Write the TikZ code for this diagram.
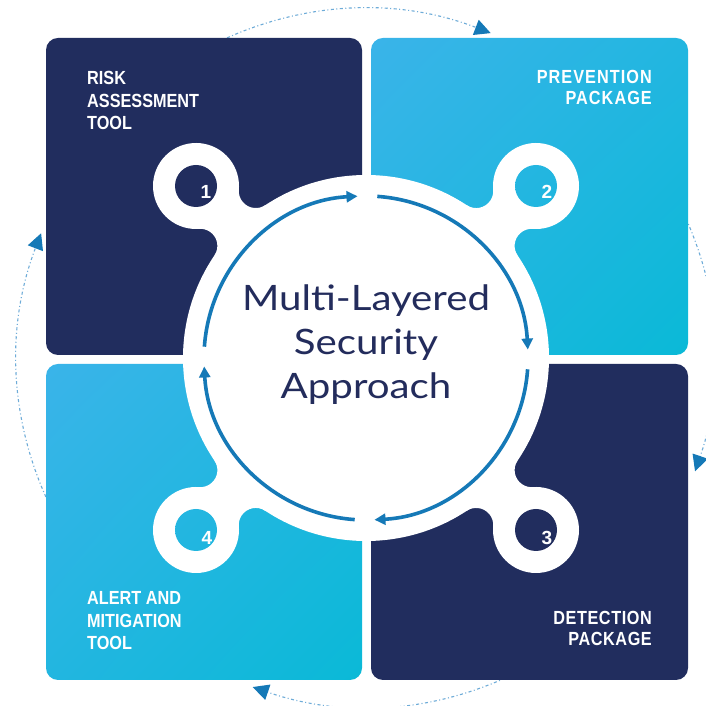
\documentclass[tikz,border=0pt]{standalone}
\usepackage{fontspec}
\setmainfont{Liberation Sans}
\newfontfamily\labelfont{Liberation Sans}[FakeStretch=0.855]
\newfontfamily\widelabelfont{Liberation Sans}[FakeStretch=0.855,LetterSpace=5.5]
\newfontfamily\midlabelfont{Liberation Sans}[FakeStretch=0.855,LetterSpace=3]
\newfontfamily\titlefont{Lato}[FakeStretch=1.15]
\usetikzlibrary{arrows.meta,shadings,calc}
\definecolor{navy}{RGB}{33,45,94}
\definecolor{skyA}{RGB}{58,180,233}
\definecolor{skyB}{RGB}{10,185,215}
\definecolor{skyM}{RGB}{34,182,224}
\definecolor{arrowblue}{RGB}{21,121,183}
\definecolor{dotblue}{RGB}{110,172,216}
\definecolor{titlenavy}{RGB}{35,44,92}
\tikzset{
  ringneck/.pic={
    \fill[white] (0,0) circle (43);
    \fill[white] (0,0) -- (32.70,27.92) arc[start angle=220.5,end angle=348.8,radius=17]
      -- (241.8,0) -- (62.3,-35.65) arc[start angle=11.2,end angle=139.5,radius=17] -- cycle;
  }
}
\begin{document}
\begin{tikzpicture}[x=1pt,y=1pt,
  tile/.style={rounded corners=12pt},
  skyfill/.style={upper left=skyA, lower right=skyB, upper right=skyM, lower left=skyM},
  outerarc/.style={draw=dotblue, line width=1.1pt, dash pattern=on 3pt off 2.5pt on 1pt off 2.5pt,
    -{Triangle[length=16pt,width=16pt,color=arrowblue]}},
  innerarc/.style={draw=arrowblue, line width=3.6pt, -{Triangle[length=11pt,width=11pt]}},
  lbl/.style={text=white, inner sep=0pt},
  num/.style={text=white, inner sep=0pt, font=\bfseries\fontsize{19}{19}\selectfont},
]
\useasboundingbox (0,0) rectangle (706,706);
\fill[white] (0,0) rectangle (706,706);
\coordinate (c) at (366,348);

% outer dotted cycle
\draw[outerarc] ($(c)+(149:348)$) arc[start angle=149, end angle=69, radius=348];
\draw[outerarc] ($(c)+(59:348)$) arc[start angle=59, end angle=-19, radius=348];
\draw[outerarc] ($(c)+(-31:348)$) arc[start angle=-31, end angle=-109, radius=348];
\draw[outerarc] ($(c)+(-121:348)$) arc[start angle=-121, end angle=-201, radius=348];

% tiles
\fill[tile, navy] (46,351) rectangle (362,668);
\shade[tile, skyfill] (371,351) rectangle (688,668);
\fill[tile, navy] (371,26) rectangle (688,342);
\shade[tile, skyfill] (46,26) rectangle (362,342);

% white hub with rings
\pic[rotate=-45.33] at (196,520) {ringneck};
\pic[rotate=225.33] at (536,520) {ringneck};
\pic[rotate=134.67] at (536,176) {ringneck};
\pic[rotate=45.33] at (196,176) {ringneck};
\fill[white] (c) circle (183);

% ring holes
\fill[navy] (196,520) circle (21);
\fill[navy] (536,176) circle (21);
\begin{scope}
  \clip (536,520) circle (21);
  \shade[tile, skyfill] (371,351) rectangle (688,668);
\end{scope}
\begin{scope}
  \clip (196,176) circle (21);
  \shade[tile, skyfill] (46,26) rectangle (362,342);
\end{scope}

\node[num] (n1) at (206,514) {1};
\node[num] (n2) at (547,514) {2};
\node[num] (n3) at (547,168) {3};
\node[num] (n4) at (207,168) {4};

% inner arrows
\draw[innerarc] ($(c)+(176:162)$) arc[start angle=176, end angle=93, radius=162];
\draw[innerarc] ($(c)+(86:162)$) arc[start angle=86, end angle=3, radius=162];
\draw[innerarc] ($(c)+(-4:162)$) arc[start angle=-4, end angle=-87, radius=162];
\draw[innerarc] ($(c)+(-94:162)$) arc[start angle=-94, end angle=-177, radius=162];

% title
\node[text=titlenavy, align=center, font=\titlefont\fontsize{35}{44}\selectfont] (title) at (366,361)
  {Multi-Layered\\Security\\Approach};

% labels
\node[lbl, anchor=north west, align=left, font=\labelfont\bfseries\fontsize{19}{22.5}\selectfont] (risk) at (87,634.5)
  {RISK\\ASSESSMENT\\TOOL};
\node[lbl, anchor=north east, align=right, font=\widelabelfont\bfseries\fontsize{19}{21}\selectfont] (prev) at (652,636)
  {PREVENTION\\PACKAGE};
\node[lbl, anchor=north east, align=right, font=\midlabelfont\bfseries\fontsize{19}{20.5}\selectfont] (detect) at (652,94.5)
  {DETECTION\\PACKAGE};
\node[lbl, anchor=north west, align=left, font=\labelfont\bfseries\fontsize{19}{22.5}\selectfont] (alert) at (87,114.5)
  {ALERT AND\\MITIGATION\\TOOL};
\end{tikzpicture}
\end{document}
